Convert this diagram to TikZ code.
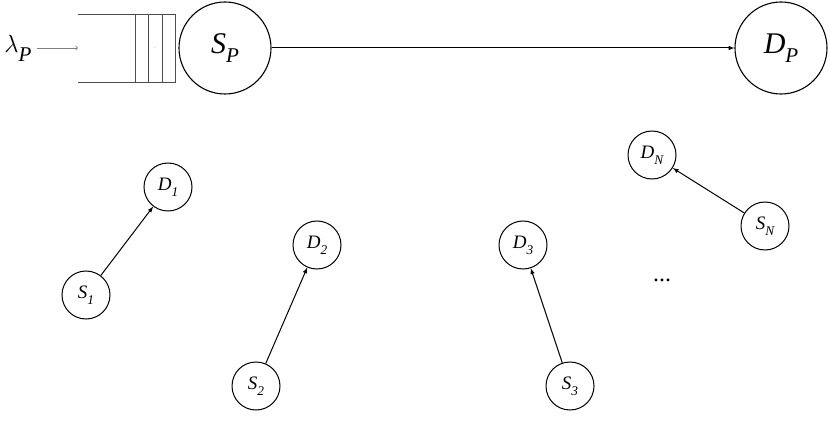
\documentclass[tikz,border=0pt]{standalone}
\usepackage{fontspec}
\setmainfont{Liberation Serif}
\newcommand{\lab}[2]{\textit{#1}\raisebox{-0.3em}{\textit{\scalebox{0.7}{#2}}}}
\begin{document}
\begin{tikzpicture}[x=1pt,y=-1pt,
  big/.style={draw,circle,minimum size=92pt,inner sep=0pt,line width=1.1pt,font=\fontsize{30}{32}\selectfont},
  small/.style={draw,circle,minimum size=48pt,inner sep=0pt,line width=1pt,font=\fontsize{19}{21}\selectfont},
  arr/.style={-latex,line width=1pt},
  q/.style={line width=0.8pt,gray!60!black}]
\useasboundingbox (0,0) rectangle (830,422);
\node[big] (SP) at (225,48) {\lab{S}{P}};
\node[big] (DP) at (781,48) {\lab{D}{P}};
\draw[arr] (SP) -- (DP);
\node[font=\fontsize{30}{32}\selectfont] (lam) at (18,48) {$\lambda$\raisebox{-0.3em}{\textit{\scalebox{0.7}{P}}}};
\coordinate (qin) at (78,48);
\draw[->,gray,line width=0.8pt] (37,48) -- (qin);
\draw[q] (78,14) -- (176,14) (78,82) -- (176,82);
\foreach \x in {135,148,162,175} \draw[q] (\x,14) -- (\x,82);
\node[font=\fontsize{4}{4}\selectfont,gray] (qd) at (155,48) {...};
\node[small] (D1) at (168,187) {\lab{D}{1}};
\node[small] (S1) at (86,295) {\lab{S}{1}};
\node[small] (D2) at (317,245) {\lab{D}{2}};
\node[small] (S2) at (256,386) {\lab{S}{2}};
\node[small] (D3) at (523,245) {\lab{D}{3}};
\node[small] (S3) at (570,386) {\lab{S}{3}};
\node[small] (DN) at (652,155) {\lab{D}{N}};
\node[small] (SN) at (765,226) {\lab{S}{N}};
\foreach \s/\d in {S1/D1,S2/D2,S3/D3,SN/DN} \draw[arr] (\s) -- (\d);
\node[font=\fontsize{24}{26}\selectfont] (dots) at (662,280) {...};
\end{tikzpicture}
\end{document}
